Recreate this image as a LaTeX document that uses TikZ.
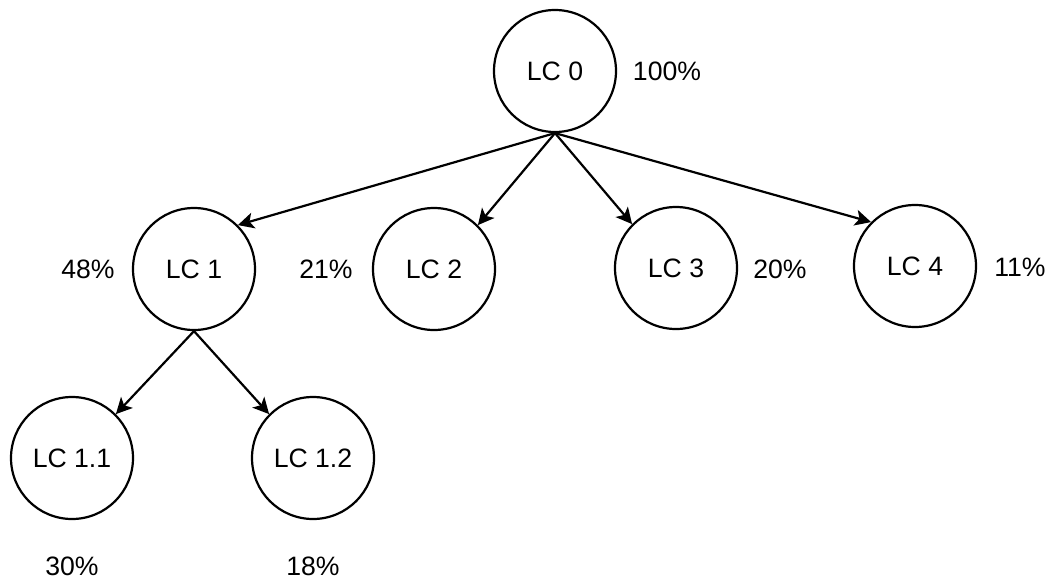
\documentclass[tikz,border=0pt]{standalone}
\usepackage{fontspec}
\setmainfont{Liberation Sans}
\usetikzlibrary{arrows.meta}
\begin{document}
\begin{tikzpicture}[x=0.5pt,y=-0.5pt,
  lc/.style={draw,circle,line width=1.1pt,minimum size=61pt,inner sep=0pt,font=\fontsize{13.3}{15}\selectfont},
  pct/.style={font=\fontsize{13.3}{15}\selectfont},
  link/.style={line width=1.1pt,-{Stealth[length=8pt,width=8pt,inset=2pt]}}]
\useasboundingbox (0,0) rectangle (1049,578);
\node[lc] (lc0) at (555,71) {LC 0};
\node[lc] (lc1) at (194,269) {LC 1};
\node[lc] (lc2) at (434,269) {LC 2};
\node[lc] (lc3) at (676,268) {LC 3};
\node[lc] (lc4) at (915,266) {LC 4};
\node[lc] (lc11) at (72,458) {LC 1.1};
\node[lc] (lc12) at (313,458) {LC 1.2};
\node[pct] (pct0) at (667,71) {100\%};
\node[pct] (pct1) at (88,269) {48\%};
\node[pct] (pct2) at (326,269) {21\%};
\node[pct] (pct3) at (780,269) {20\%};
\node[pct] (pct4) at (1020,267) {11\%};
\node[pct] (pct11) at (72,566) {30\%};
\node[pct] (pct12) at (313,566) {18\%};
\draw[link] (lc0.south) -- (lc1.north east);
\draw[link] (lc0.south) -- (lc2.north east);
\draw[link] (lc0.south) -- (lc3.north west);
\draw[link] (lc0.south) -- (lc4.north west);
\draw[link] (lc1.south) -- (lc11.north east);
\draw[link] (lc1.south) -- (lc12.north west);
\end{tikzpicture}
\end{document}
